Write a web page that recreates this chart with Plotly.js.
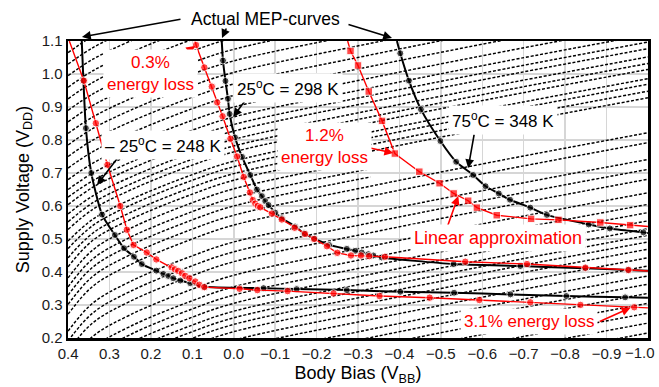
<!DOCTYPE html>
<html>
<head>
<meta charset="utf-8">
<script src="https://cdn.plot.ly/plotly-3.0.1.min.js"></script>
<style>html,body{margin:0;padding:0;background:#fff;}#chart{width:659px;height:387px;}</style>
</head>
<body>
<div id="chart"></div>
<script>
// ---- background iso-lines (dashed black), y values at bgX ----
const bgX = [0.4, 0.34, 0.25, 0.1, 0.0, -0.33, -0.66, -1.0];
const bgLines = [
  [-0.305, -0.22, -0.155, -0.077, -0.035, 0.053, 0.135, 0.215],
  [-0.275, -0.19, -0.125, -0.047, -0.005, 0.083, 0.165, 0.245],
  [-0.245, -0.16, -0.095, -0.017, 0.025, 0.113, 0.195, 0.275],
  [-0.215, -0.13, -0.065, 0.013, 0.055, 0.143, 0.225, 0.305],
  [-0.185, -0.10, -0.035, 0.043, 0.085, 0.173, 0.255, 0.335],
  [-0.157, -0.072, -0.007, 0.071, 0.113, 0.201, 0.283, 0.363],
  [-0.132, -0.047, 0.018, 0.096, 0.138, 0.226, 0.308, 0.388],
  [-0.102, -0.017, 0.048, 0.126, 0.168, 0.256, 0.338, 0.418],
  [-0.077, 0.008, 0.073, 0.151, 0.193, 0.281, 0.363, 0.443],
  [-0.051, 0.034, 0.099, 0.177, 0.219, 0.307, 0.389, 0.469],
  [-0.029, 0.056, 0.121, 0.199, 0.241, 0.329, 0.411, 0.491],
  [-0.009, 0.076, 0.141, 0.219, 0.261, 0.349, 0.431, 0.511],
  [0.011, 0.096, 0.161, 0.239, 0.281, 0.369, 0.451, 0.531],
  [0.035, 0.12, 0.185, 0.263, 0.305, 0.393, 0.475, 0.555],
  [0.06, 0.145, 0.21, 0.288, 0.33, 0.418, 0.5, 0.58],
  [0.085, 0.17, 0.235, 0.313, 0.355, 0.443, 0.525, 0.605],
  [0.12, 0.205, 0.27, 0.348, 0.39, 0.478, 0.56, 0.64],
  [0.161, 0.246, 0.311, 0.389, 0.431, 0.519, 0.601, 0.681],
  [0.191, 0.276, 0.341, 0.419, 0.461, 0.549, 0.631, 0.711],
  [0.221, 0.306, 0.371, 0.449, 0.491, 0.579, 0.661, 0.741],
  [0.272, 0.357, 0.422, 0.5, 0.542, 0.63, 0.712, 0.792],
  [0.302, 0.387, 0.452, 0.53, 0.572, 0.66, 0.742, 0.822],
  [0.33, 0.415, 0.48, 0.558, 0.60, 0.688, null, null],
  [0.355, 0.44, 0.505, 0.583, 0.625, 0.713, null, null],
  [0.382, 0.467, 0.532, 0.61, 0.652, 0.74, null, null],
  [0.416, 0.496, 0.559, 0.636, 0.678, 0.766, 0.848, 0.928],
  [0.443, 0.518, 0.58, 0.657, 0.698, 0.786, 0.868, 0.948],
  [0.471, 0.541, 0.602, 0.678, 0.719, 0.807, 0.889, 0.969],
  [0.494, 0.56, 0.619, 0.695, 0.736, 0.824, 0.906, 0.986],
  [0.529, 0.59, 0.648, 0.724, 0.764, 0.852, 0.934, 1.014],
  [0.552, 0.61, 0.666, 0.742, 0.782, 0.87, 0.952, 1.032],
  [0.576, 0.631, 0.687, 0.762, 0.802, 0.89, 0.972, 1.052],
  [0.604, 0.657, 0.712, 0.787, 0.827, 0.915, 0.997, 1.077],
  [0.627, 0.677, 0.732, 0.807, 0.847, 0.935, 1.017, 1.097],
  [0.65, 0.70, 0.755, 0.83, 0.87, 0.958, 1.04, 1.12],
  [0.68, 0.73, 0.785, 0.86, 0.90, 0.988, 1.07, 1.15],
  [0.715, 0.765, 0.82, 0.895, 0.935, 1.023, 1.105, 1.185],
  [0.75, 0.80, 0.855, 0.93, 0.97, 1.058, 1.14, 1.22],
  [0.785, 0.835, 0.89, 0.965, 1.005, 1.093, 1.175, 1.255],
  [0.82, 0.87, 0.925, 1.00, 1.04, 1.128, 1.21, 1.29],
  [0.855, 0.905, 0.96, 1.035, 1.075, 1.163, 1.245, 1.325],
  [0.89, 0.94, 0.995, 1.07, 1.11, 1.198, 1.28, 1.36],
  [0.925, 0.975, 1.03, 1.105, 1.145, 1.233, 1.315, 1.395],
  [0.96, 1.01, 1.065, 1.14, 1.18, 1.268, 1.35, 1.43],
  [0.995, 1.045, 1.10, 1.175, 1.215, 1.303, 1.385, 1.465],
  [1.03, 1.08, 1.135, 1.21, 1.25, 1.338, 1.42, 1.50],
  [1.065, 1.115, 1.17, 1.245, 1.285, 1.373, 1.455, 1.535]
];

// ---- actual MEP curves (black) ----
const mepColdX = [0.367, 0.363, 0.357, 0.344, 0.318, 0.287, 0.265, 0.241, 0.222, 0.187, 0.170, 0.158, 0.146, 0.129, 0.105, 0.071, -0.072, -0.152, -0.273, -0.402, -0.532, -0.668, -0.803, -0.945, -1.0];
const mepColdY = [1.1, 0.98, 0.836, 0.70, 0.574, 0.512, 0.472, 0.446, 0.424, 0.404, 0.394, 0.388, 0.381, 0.374, 0.366, 0.355, 0.351, 0.348, 0.345, 0.340, 0.337, 0.332, 0.327, 0.323, 0.322];

const mepRoomX = [0.029, 0.026, 0.020, 0.014, 0.010, -0.003, -0.020, -0.040, -0.056, -0.068, -0.076, -0.084, -0.100, -0.116, -0.148, -0.170, -0.195, -0.230, -0.273, -0.293, -0.309, -0.325, -0.337, -0.357, -0.531, -0.692, -0.849, -0.952, -1.0];
const mepRoomY = [1.1, 1.041, 0.979, 0.925, 0.879, 0.808, 0.749, 0.694, 0.650, 0.630, 0.615, 0.603, 0.580, 0.563, 0.538, 0.517, 0.501, 0.482, 0.470, 0.464, 0.459, 0.454, 0.450, 0.444, 0.424, 0.418, 0.411, 0.406, 0.404];

const mepHotX = [-0.394, -0.402, -0.423, -0.452, -0.499, -0.537, -0.578, -0.608, -0.640, -0.667, -0.716, -0.756, -0.857, -0.908, -0.989, -1.0];
const mepHotY = [1.1, 1.063, 0.980, 0.893, 0.797, 0.734, 0.694, 0.660, 0.638, 0.619, 0.595, 0.573, 0.544, 0.532, 0.520, 0.518];

// ---- linear approximations (red) ----
const linColdX = [0.397, 0.362, 0.333, 0.305, 0.274, 0.258, 0.242, 0.210, 0.187, 0.150, 0.142, 0.134, 0.125, 0.117, 0.107, 0.093, 0.083, 0.071, -0.014, -0.057, -0.130, -0.241, -0.352, -0.473, -0.593, -0.716, -0.837, -0.967, -1.0];
const linColdY = [1.1, 0.98, 0.851, 0.725, 0.60, 0.528, 0.482, 0.459, 0.438, 0.414, 0.408, 0.403, 0.396, 0.388, 0.381, 0.371, 0.361, 0.354, 0.349, 0.345, 0.342, 0.335, 0.327, 0.322, 0.315, 0.308, 0.300, 0.293, 0.291];

const linRoomX = [0.093, 0.091, 0.071, 0.053, 0.040, 0.027, 0.008, -0.008, -0.024, -0.039, -0.046, -0.052, -0.058, -0.064, -0.092, -0.116, -0.147, -0.172, -0.194, -0.225, -0.250, -0.283, -0.307, -0.327, -0.365, -0.559, -0.708, -0.849, -0.953, -1.0];
const linRoomY = [1.1, 1.088, 1.020, 0.962, 0.914, 0.872, 0.804, 0.750, 0.688, 0.641, 0.618, 0.607, 0.600, 0.596, 0.577, 0.559, 0.534, 0.515, 0.500, 0.478, 0.458, 0.450, 0.450, 0.448, 0.446, 0.431, 0.424, 0.413, 0.406, 0.403];

const linHotX = [-0.275, -0.282, -0.300, -0.326, -0.358, -0.389, -0.448, -0.497, -0.531, -0.566, -0.587, -0.635, -0.718, -0.784, -0.885, -0.957, -1.0];
const linHotY = [1.1, 1.070, 1.026, 0.947, 0.858, 0.759, 0.704, 0.669, 0.638, 0.616, 0.595, 0.572, 0.561, 0.558, 0.550, 0.542, 0.538];

const xTickVals = [0.4, 0.3, 0.2, 0.1, 0.0, -0.1, -0.2, -0.3, -0.4, -0.5, -0.6, -0.7, -0.8, -0.9, -1.0];
const xTickText = ['0.4', '0.3', '0.2', '0.1', '0.0', '\u22120.1', '\u22120.2', '\u22120.3', '\u22120.4', '\u22120.5', '\u22120.6', '\u22120.7', '\u22120.8', '\u22120.9', ''];
const xEdgeLabel = '\u22121.0';
const yTickVals = [0.2, 0.3, 0.4, 0.5, 0.6, 0.7, 0.8, 0.9, 1.0, 1.1];
const yTickText = ['0.2', '0.3', '0.4', '0.5', '0.6', '0.7', '0.8', '0.9', '1.0', '1.1'];

// ---- build traces ----
const traces = [];
bgLines.forEach(function (ys) {
  traces.push({x: bgX, y: ys, mode: 'lines', hoverinfo: 'skip', showlegend: false,
    line: {color: 'black', width: 1.45, dash: '3px,1.8px', shape: 'spline'}});
});
function endless(n, s) { const a = []; for (let i = 0; i < n; i++) a.push((i === 0 || i === n - 1) ? 0 : s); return a; }
function blackCurve(x, y) {
  return {x: x, y: y, mode: 'lines+markers', showlegend: false,
    line: {color: 'black', width: 2, shape: 'spline', smoothing: 0.6},
    marker: {color: 'black', size: endless(x.length, 7)}};
}
function redCurve(x, y, sym) {
  return {x: x, y: y, mode: 'lines+markers', showlegend: false,
    line: {color: '#ff0000', width: 1.4},
    marker: {color: '#ff0000', symbol: sym, size: endless(x.length, 7.5)}};
}
traces.push(blackCurve(mepColdX, mepColdY));
traces.push(blackCurve(mepRoomX, mepRoomY));
traces.push(blackCurve(mepHotX, mepHotY));
traces.push(redCurve(linColdX, linColdY, 'circle'));
traces.push(redCurve(linRoomX, linRoomY, 'circle'));
traces.push(redCurve(linHotX, linHotY, 'square'));

// ---- annotations ----
const FONT = 'Liberation Sans, Arial, Helvetica, sans-serif';
function label(x, y, text, color, size) {
  return {x: x, y: y, xref: 'x', yref: 'y', xanchor: 'center', yanchor: 'middle', text: text, showarrow: false,
    font: {family: FONT, size: size || 17, color: color}, bgcolor: 'white', borderpad: 3};
}
function arrow(hx, hy, tx, ty, color) {
  return {x: hx, y: hy, ax: tx, ay: ty, xref: 'x', yref: 'y', axref: 'x', ayref: 'y',
    text: '', showarrow: true, arrowhead: 2, arrowsize: 1.1, arrowwidth: 1.6, arrowcolor: color, standoff: 0, startstandoff: 0};
}
function parrow(hx, hy, dx, dy) {
  return {x: hx, y: hy, xref: 'paper', yref: 'paper', ax: dx, ay: dy,
    text: '', showarrow: true, arrowhead: 2, arrowsize: 1.1, arrowwidth: 1.6, arrowcolor: 'black', standoff: 0};
}
const annotations = [
  arrow(0.0932, 1.085, 0.146, 1.039, '#ff0000'),
  arrow(0.0014, 0.870, -0.032, 0.927, 'black'),
  arrow(0.330, 0.664, 0.279, 0.748, 'black'),
  arrow(-0.385, 0.761, -0.317, 0.779, '#ff0000'),
  arrow(-0.566, 0.715, -0.581, 0.821, 'black'),
  arrow(-0.542, 0.630, -0.5155, 0.536, '#ff0000'),
  arrow(-0.9575, 0.291, -0.880, 0.248, '#ff0000'),
  label(0.200, 1.003, '0.3%<br>energy loss', '#ff0000'),
  label(-0.131, 0.958, '25<sup>o</sup>C = 298 K', 'black'),
  label(0.1705, 0.785, '\u2013 25<sup>o</sup>C = 248 K', 'black'),
  label(-0.218, 0.779, '1.2%<br>energy loss', '#ff0000'),
  label(-0.651, 0.861, '75<sup>o</sup>C = 348 K', 'black'),
  label(-0.639, 0.503, 'Linear approximation', '#ff0000', 18),
  label(-0.7135, 0.2485, '3.1% energy loss', '#ff0000'),
  parrow(0.0241, 1.0135, 100, -18),
  parrow(0.2655, 1.0101, 5, -11),
  parrow(0.5586, 1.0101, -45, -14),
  {x: 0.3397, y: 1.074, xref: 'paper', yref: 'paper', xanchor: 'center', yanchor: 'middle',
    text: 'Actual MEP-curves', showarrow: false, font: {family: FONT, size: 17.5, color: 'black'}},
  {x: 1.0155, y: -0.0505, xref: 'paper', yref: 'paper', xanchor: 'right', yanchor: 'middle',
    text: xEdgeLabel, showarrow: false, font: {family: FONT, size: 15, color: '#1a1a1a'}}
];

const axisCommon = {
  showgrid: true, gridcolor: '#d6d6d6', gridwidth: 1.5,
  zeroline: false, showline: true, linecolor: 'black', linewidth: 2.5, mirror: true,
  ticks: '', tickmode: 'array',
  tickfont: {family: FONT, size: 15, color: '#1a1a1a'}
};
const layout = {
  width: 659, height: 387,
  margin: {l: 68, r: 11, t: 41, b: 49},
  paper_bgcolor: 'white', plot_bgcolor: 'white',
  font: {family: FONT, color: 'black'},
  showlegend: false,
  xaxis: Object.assign({}, axisCommon, {range: [0.4002, -1.0002], tickvals: xTickVals, ticktext: xTickText,
    title: {text: 'Body Bias (V<sub>BB</sub>)', font: {family: FONT, size: 18, color: 'black'}, standoff: 6}}),
  yaxis: Object.assign({}, axisCommon, {range: [0.1998, 1.1002], tickvals: yTickVals, ticktext: yTickText,
    title: {text: 'Supply Voltage (V<sub>DD</sub>)', font: {family: FONT, size: 18, color: 'black'}, standoff: 8}}),
  annotations: annotations
};
Plotly.newPlot('chart', traces, layout, {staticPlot: true, displayModeBar: false});
</script>
</body>
</html>
